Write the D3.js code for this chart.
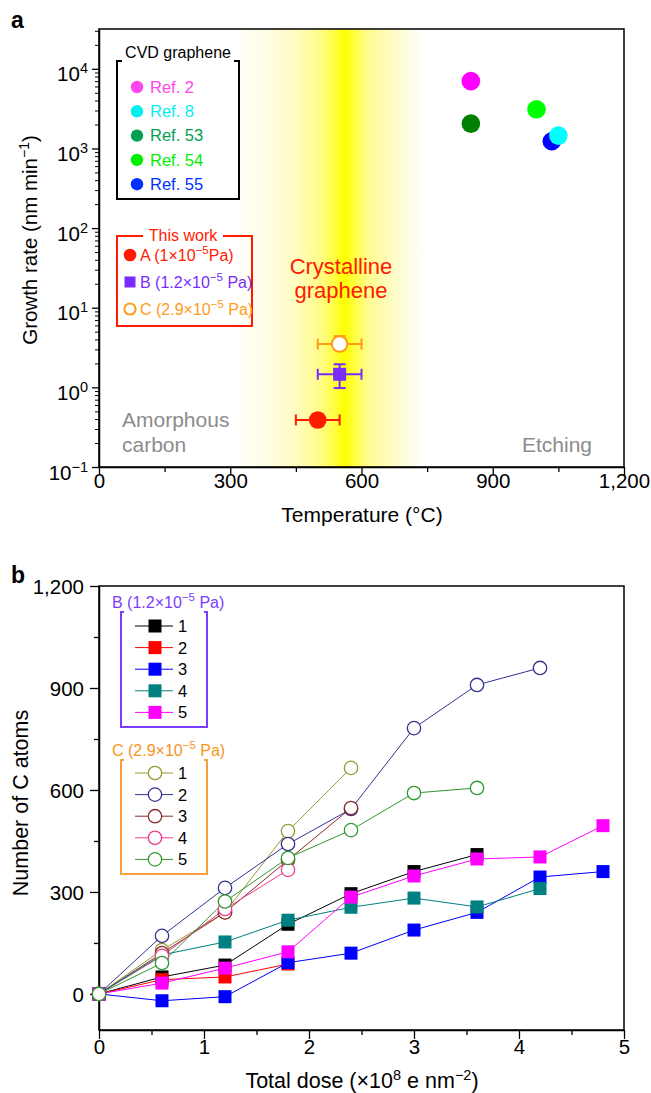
<!DOCTYPE html>
<html><head><meta charset="utf-8">
<script src="https://cdn.jsdelivr.net/npm/d3@7"></script>
<style>
body{margin:0;background:#fff}
svg{display:block}
text{font-family:"Liberation Sans",Arial,Helvetica,sans-serif}
</style>
</head><body>
<svg id="c" width="651" height="1093"></svg>
<script>
// ---------- DATA ----------
// Panel a
const cvdRefs  = ["Ref. 2", "Ref. 8", "Ref. 53", "Ref. 54", "Ref. 55"];
const cvdTemp  = [850, 1050, 850, 1000, 1035];
const cvdRate  = [7000, 1450, 2050, 3100, 1230];
const workLabels = ["A", "B", "C"];
const workPress  = ["1", "1.2", "2.9"];
const workTemp   = [500, 550, 550];
const workTempErr= [50, 50, 50];
const workRate   = [0.39, 1.46, 3.5];
const workRateLo = [0.33, 0.98, 3.0];
const workRateHi = [0.46, 1.95, 4.4];
const tempTicks  = [0, 300, 600, 900, 1200];
const tempMinor  = [150, 450, 750, 1050];
const rateExp    = [-1, 0, 1, 2, 3, 4];
// Panel b
const doses = [0, 0.6, 1.2, 1.8, 2.4, 3.0, 3.6, 4.2, 4.8];
const seriesNames = ["1", "2", "3", "4", "5"];
const B1 = [0, 50, 85, 205, 295, 360, 410];
const B2 = [0, 42, 50, 88];
const B3 = [0, -20, -8, 92, 120, 188, 240, 344, 360];
const B4 = [0, 115, 153, 217, 255, 282, 256, 310];
const B5 = [0, 32, 76, 124, 285, 347, 397, 403, 495];
const C1 = [0, 129, 240, 479, 665];
const C2 = [0, 171, 312, 441, 544, 782, 909, 959];
const C3 = [0, 120, 240, 394, 547];
const C4 = [0, 112, 250, 365];
const C5 = [0, 91, 272, 400, 482, 591, 606];
const doseTicks = [0, 1, 2, 3, 4, 5];
const doseMinor = [0.5, 1.5, 2.5, 3.5, 4.5];
const atomTicks = [0, 300, 600, 900, 1200];
const atomMinor = [150, 450, 750, 1050];

// ---------- STYLE ----------
const cvdColors = ["#ff00ff", "#00ffff", "#008000", "#00ff00", "#0000ff"];
const cvdLegendColors = ["#ff44ee", "#00f0f0", "#00a050", "#00ee00", "#0030ff"];
const workColors = ["#ff1a00", "#7a2cff", "#ff9a1a"];
const bColors = ["#000000", "#ff0000", "#0000ff", "#008080", "#ff00ff"];
const cColors = ["#999933", "#33338f", "#8b2a2a", "#ee3d8f", "#2f9a2f"];
const purple = "#7b3cff", orange = "#f7a040";

const svg = d3.select("#c");
const FONT_TICK = 20.5;
const FONT_TITLE = 21;

// ================= PANEL A =================
const xa = d3.scaleLinear().domain([0, 1200]).range([99, 624]);
const ya = d3.scaleLog().domain([0.1, Math.pow(10, 4.5)]).range([467, 29]);

// yellow band gradient
const bandStops = [[300,"#ffffff"],[380,"#fffde6"],[450,"#fffcc0"],[505,"#fffb88"],[540,"#ffff40"],[560,"#ffff00"],[578,"#ffff30"],[615,"#fffb90"],[675,"#fffcc8"],[740,"#ffffff"]];
const defs = svg.append("defs");
const grad = defs.append("linearGradient").attr("id","band").attr("gradientUnits","userSpaceOnUse")
  .attr("x1", xa(300)).attr("x2", xa(740)).attr("y1",0).attr("y2",0);
grad.selectAll("stop").data(bandStops).join("stop")
  .attr("offset", d => (d[0]-300)/(740-300))
  .attr("stop-color", d => d[1]);
svg.append("rect").attr("x", xa(300)).attr("y", ya.range()[1]).attr("width", xa(740)-xa(300))
  .attr("height", ya.range()[0]-ya.range()[1]).attr("fill","url(#band)");

// frame
svg.append("rect").attr("x",99).attr("y",29).attr("width",525).attr("height",438)
  .attr("fill","none").attr("stroke","#000").attr("stroke-width",1.5);

function styleAxis(g){ g.select(".domain").attr("stroke-width",1.5); g.selectAll(".tick line").attr("stroke-width",1.3); }
const gxa = svg.append("g").attr("transform","translate(0,467)")
  .call(d3.axisBottom(xa).tickValues(tempTicks).tickSize(8).tickSizeOuter(0).tickFormat(d3.format(",")));
styleAxis(gxa);
gxa.selectAll(".tick text").attr("font-size",FONT_TICK).attr("dy","0.55em").attr("y",10);
svg.append("g").attr("transform","translate(0,467)")
  .call(d3.axisBottom(xa).tickValues(tempMinor).tickSize(5).tickFormat("")).call(g=>{g.select(".domain").remove(); g.selectAll("line").attr("stroke-width",1.3);});

// y axis a (log)
const majorVals = rateExp.map(e => Math.pow(10, e));
const minorVals = [];
rateExp.forEach(e => { for (let k = 2; k <= 9; k++) { const v = k*Math.pow(10,e); if (v <= ya.domain()[1]) minorVals.push(v); } });
const gya = svg.append("g").attr("transform","translate(99,0)")
  .call(d3.axisLeft(ya).tickValues(majorVals).tickSize(7).tickSizeOuter(0).tickFormat(""));
styleAxis(gya);
svg.append("g").attr("transform","translate(99,0)")
  .call(d3.axisLeft(ya).tickValues(minorVals).tickSize(4).tickFormat("")).call(g=>{g.select(".domain").remove(); g.selectAll("line").attr("stroke-width",1);});
gya.selectAll(".tick").each(function(d){
  const t = d3.select(this).append("text").attr("x",-11).attr("y",12).attr("text-anchor","end")
    .attr("fill","#000").attr("font-size",FONT_TICK);
  t.append("tspan").text("10");
  t.append("tspan").attr("dy",-8).attr("font-size",14.5).text(String(Math.round(Math.log10(d))).replace("-","\u2212"));
});

// axis titles a
svg.append("text").attr("x",362).attr("y",522).attr("text-anchor","middle").attr("font-size",FONT_TITLE).text("Temperature (\u00b0C)");
const yt = svg.append("text").attr("transform","translate(37,240) rotate(-90)").attr("text-anchor","middle").attr("font-size",20.5);
yt.append("tspan").text("Growth rate (nm min");
yt.append("tspan").attr("dy",-8).attr("font-size",14).text("\u22121");
yt.append("tspan").attr("dy",8).text(")");

// region labels
svg.append("text").attr("x",122).attr("y",427).attr("font-size",21).attr("fill","#8c8c8c").text("Amorphous");
svg.append("text").attr("x",122).attr("y",452).attr("font-size",21).attr("fill","#8c8c8c").text("carbon");
svg.append("text").attr("x",592).attr("y",452).attr("text-anchor","end").attr("font-size",21).attr("fill","#8c8c8c").text("Etching");
svg.append("text").attr("x",341).attr("y",274).attr("text-anchor","middle").attr("font-size",22).attr("fill","#ff1a00").text("Crystalline");
svg.append("text").attr("x",341).attr("y",298).attr("text-anchor","middle").attr("font-size",22).attr("fill","#ff1a00").text("graphene");

// CVD points (Ref.8 drawn last so it sits on Ref.55)
const cvdOrder = [0,2,3,4,1];
svg.append("g").selectAll("circle").data(cvdOrder).join("circle")
  .attr("cx", i => xa(cvdTemp[i])).attr("cy", i => ya(cvdRate[i])).attr("r", 9.3)
  .attr("fill", i => cvdColors[i]);

// this work points
const wk = svg.append("g");
workLabels.forEach((lab, i) => {
  const c = workColors[i];
  const cx = xa(workTemp[i]), cy = ya(workRate[i]);
  const g = wk.append("g").attr("stroke", c).attr("stroke-width", 2).attr("fill","none");
  g.append("line").attr("x1", xa(workTemp[i]-workTempErr[i])).attr("x2", xa(workTemp[i]+workTempErr[i])).attr("y1",cy).attr("y2",cy);
  [workTemp[i]-workTempErr[i], workTemp[i]+workTempErr[i]].forEach(t => g.append("line").attr("x1",xa(t)).attr("x2",xa(t)).attr("y1",cy-5.5).attr("y2",cy+5.5));
  g.append("line").attr("x1",cx).attr("x2",cx).attr("y1",ya(workRateLo[i])).attr("y2",ya(workRateHi[i]));
  [workRateLo[i], workRateHi[i]].forEach(v => g.append("line").attr("x1",cx-6).attr("x2",cx+6).attr("y1",ya(v)).attr("y2",ya(v)));
  if (i === 0) g.append("circle").attr("cx",cx).attr("cy",cy).attr("r",8.8).attr("fill",c).attr("stroke","none");
  if (i === 1) g.append("rect").attr("x",cx-6.5).attr("y",cy-6.5).attr("width",13).attr("height",13).attr("fill",c).attr("stroke","none");
  if (i === 2) g.append("circle").attr("cx",cx).attr("cy",cy).attr("r",7.8).attr("fill","#fff");
});

// CVD legend (bracket box)
const cl = svg.append("g");
cl.append("path").attr("d","M122,61 H117 V199 H239 V61 H234").attr("fill","none").attr("stroke","#000").attr("stroke-width",2);
cl.append("text").attr("x",178).attr("y",58).attr("text-anchor","middle").attr("font-size",16).text("CVD graphene");
cvdRefs.forEach((r, i) => {
  const y = 87 + i*24.3;
  cl.append("circle").attr("cx",137).attr("cy",y).attr("r",6.2).attr("fill",cvdLegendColors[i]);
  cl.append("text").attr("x",150).attr("y",y+5.8).attr("font-size",16.5).attr("fill",cvdLegendColors[i]).text(r);
});

// This work legend
const tl = svg.append("g");
tl.append("path").attr("d","M143,236 H117 V326 H252 V236 H223").attr("fill","none").attr("stroke","#ff1a00").attr("stroke-width",2);
tl.append("text").attr("x",183).attr("y",241).attr("text-anchor","middle").attr("font-size",16).attr("fill","#ff1a00").text("This work");
workLabels.forEach((lab, i) => {
  const y = 255 + i*27;
  const c = workColors[i];
  if (i === 0) tl.append("circle").attr("cx",130).attr("cy",y).attr("r",6.3).attr("fill",c);
  if (i === 1) tl.append("rect").attr("x",124.5).attr("y",y-5.5).attr("width",11).attr("height",11).attr("fill",c);
  if (i === 2) tl.append("circle").attr("cx",130).attr("cy",y).attr("r",5.6).attr("fill","#fff").attr("stroke",c).attr("stroke-width",2);
  const t = tl.append("text").attr("x",140).attr("y",y+6).attr("font-size",16).attr("fill",c);
  t.append("tspan").text(lab + " (" + workPress[i] + "\u00d710");
  t.append("tspan").attr("dy",-7).attr("font-size",11.5).text("\u22125");
  t.append("tspan").attr("dy",7).text(i === 0 ? "Pa)" : " Pa)");
});

svg.append("text").attr("x",11).attr("y",28).attr("font-size",23).attr("font-weight","bold").text("a");

// ================= PANEL B =================
const xb = d3.scaleLinear().domain([0, 5]).range([99, 624]);
const yb = d3.scaleLinear().domain([-106, 1200]).range([1030, 586]);

svg.append("rect").attr("x",99).attr("y",586).attr("width",525).attr("height",444)
  .attr("fill","none").attr("stroke","#000").attr("stroke-width",1.5);

const gxb = svg.append("g").attr("transform","translate(0,1030)")
  .call(d3.axisBottom(xb).tickValues(doseTicks).tickSize(9).tickSizeOuter(0).tickFormat(d3.format("d")));
styleAxis(gxb);
gxb.selectAll(".tick text").attr("font-size",FONT_TICK).attr("dy","0.55em").attr("y",13);
svg.append("g").attr("transform","translate(0,1030)")
  .call(d3.axisBottom(xb).tickValues(doseMinor).tickSize(5).tickFormat("")).call(g=>{g.select(".domain").remove(); g.selectAll("line").attr("stroke-width",1.3);});

const gyb = svg.append("g").attr("transform","translate(99,0)")
  .call(d3.axisLeft(yb).tickValues(atomTicks).tickSize(9).tickSizeOuter(0).tickFormat(d3.format(",")));
styleAxis(gyb);
gyb.selectAll(".tick text").attr("font-size",FONT_TICK).attr("x",-15).attr("dy","0.35em");
svg.append("g").attr("transform","translate(99,0)")
  .call(d3.axisLeft(yb).tickValues(atomMinor).tickSize(5).tickFormat("")).call(g=>{g.select(".domain").remove(); g.selectAll("line").attr("stroke-width",1.3);});

const xt = svg.append("text").attr("x",362).attr("y",1088).attr("text-anchor","middle").attr("font-size",21.5);
xt.append("tspan").text("Total dose (\u00d710");
xt.append("tspan").attr("dy",-8).attr("font-size",14.5).text("8");
xt.append("tspan").attr("dy",8).text(" e nm");
xt.append("tspan").attr("dy",-8).attr("font-size",14.5).text("\u22122");
xt.append("tspan").attr("dy",8).text(")");
svg.append("text").attr("transform","translate(28,803) rotate(-90)").attr("text-anchor","middle").attr("font-size",21.5).text("Number of C atoms");

svg.append("text").attr("x",11).attr("y",583).attr("font-size",23).attr("font-weight","bold").text("b");

const line = d3.line().x((d,i) => xb(doses[i])).y(d => yb(d));
const Bs = [B1, B2, B3, B4, B5];
const Cs = [C1, C2, C3, C4, C5];
const gl = svg.append("g");
Cs.forEach((s, k) => {
  gl.append("path").datum(s).attr("d", line).attr("fill","none").attr("stroke", cColors[k]).attr("stroke-width",1);
});
Bs.forEach((s, k) => {
  gl.append("path").datum(s).attr("d", line).attr("fill","none").attr("stroke", bColors[k]).attr("stroke-width",1);
});
Bs.forEach((s, k) => {
  gl.append("g").selectAll("rect").data(s).join("rect")
    .attr("x",(d,i)=>xb(doses[i])-6.5).attr("y",d=>yb(d)-6.5).attr("width",13).attr("height",13)
    .attr("fill",bColors[k]);
});
Cs.forEach((s, k) => {
  gl.append("g").selectAll("circle").data(s).join("circle")
    .attr("cx",(d,i)=>xb(doses[i])).attr("cy",d=>yb(d)).attr("r",6.7)
    .attr("fill","#fff").attr("stroke",cColors[k]).attr("stroke-width",1.3);
});

// legends panel b
function bracketLegend(title, tcolor, bcolor, top, bottom, itemY0, colors, square) {
  const g = svg.append("g");
  const t = g.append("text").attr("x",112).attr("y",top-4).attr("font-size",16).attr("fill",tcolor);
  t.append("tspan").text(title[0] + " (" + title[1] + "\u00d710");
  t.append("tspan").attr("dy",-7).attr("font-size",11.5).text("\u22125");
  t.append("tspan").attr("dy",7).text(" Pa)");
  g.append("path").attr("d",`M124,${top} H121 V${bottom} H207 V${top} H204`).attr("fill","none").attr("stroke",bcolor).attr("stroke-width",2);
  seriesNames.forEach((n, k) => {
    const y = itemY0 + k*21.6;
    g.append("line").attr("x1",135).attr("x2",173).attr("y1",y).attr("y2",y).attr("stroke",colors[k]).attr("stroke-width",1);
    if (square) g.append("rect").attr("x",148.5).attr("y",y-6.5).attr("width",13).attr("height",13).attr("fill",colors[k]);
    else g.append("circle").attr("cx",155).attr("cy",y).attr("r",6.7).attr("fill","#fff").attr("stroke",colors[k]).attr("stroke-width",1.3);
    g.append("text").attr("x",178).attr("y",y+6).attr("font-size",16.5).text(n);
  });
}
bracketLegend(["B","1.2"], purple, purple, 612, 727, 626, bColors, true);
bracketLegend(["C","2.9"], "#f7941d", orange, 760, 874, 773, cColors, false);
</script>
</body></html>
